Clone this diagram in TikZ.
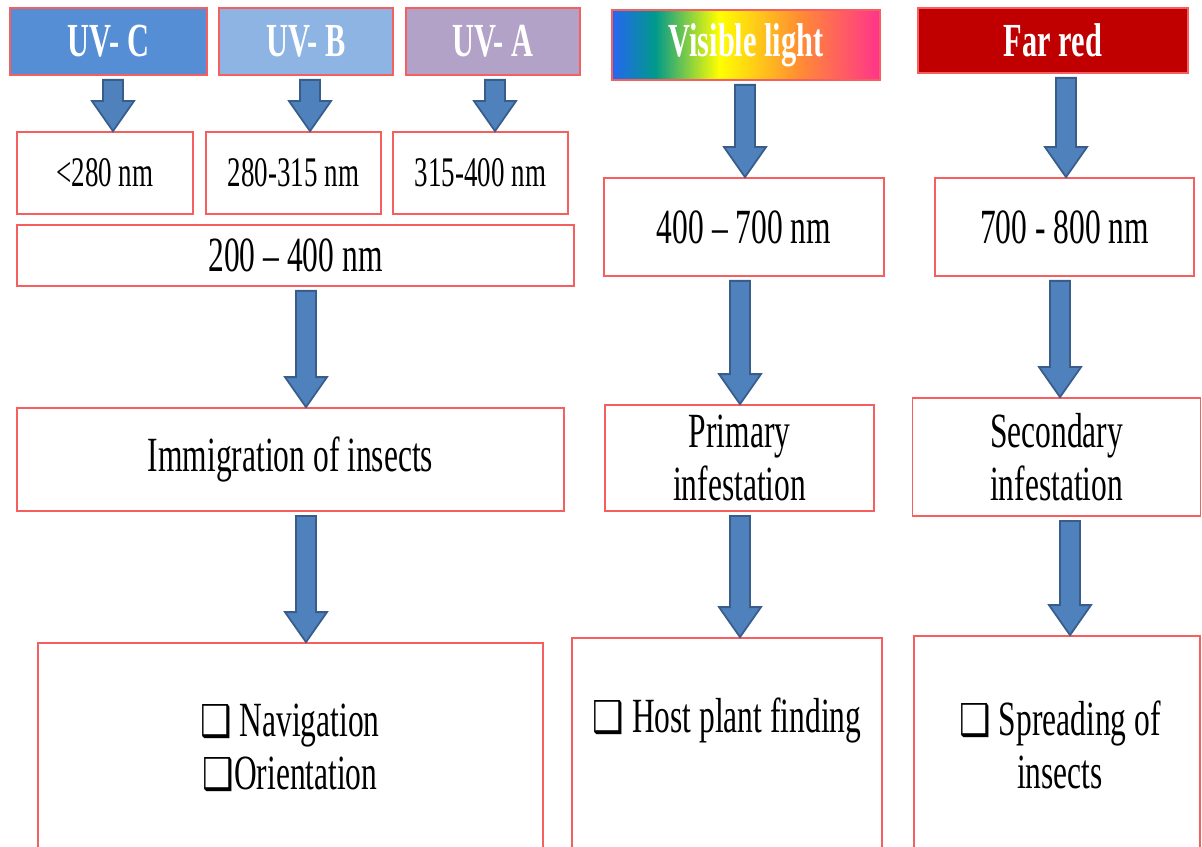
\documentclass[tikz,border=0pt]{standalone}
\usepackage{fontspec}
\setmainfont{Liberation Serif}[FakeStretch=0.64]
\newfontfamily\boxsym{DejaVu Sans}[FakeStretch=0.8]
\usepackage{tikz}
\usetikzlibrary{calc}

\definecolor{uvcblue}{RGB}{85,142,213}
\definecolor{uvbblue}{RGB}{142,180,227}
\definecolor{uvalila}{RGB}{179,162,199}
\definecolor{farred}{RGB}{192,0,0}
\definecolor{boxred}{RGB}{245,95,95}
\definecolor{arrowfill}{RGB}{79,129,189}
\definecolor{arrowline}{RGB}{56,93,138}

\pgfdeclarehorizontalshading{spectrum}{100bp}{rgb(0bp)=(0.15,0.4,0.95); rgb(25bp)=(0.15,0.4,0.95); rgb(33bp)=(0,0.6,0.55); rgb(45bp)=(1,1,0); rgb(60bp)=(1,0.55,0.2); rgb(75bp)=(1,0.2,0.55); rgb(100bp)=(1,0.2,0.55)}

\newcommand{\cbox}{{\boxsym\fontsize{25}{25}\selectfont ❑}}
\newcommand{\flow}[3]{%
	\coordinate (s) at (#2.south -| #1,0);
	\coordinate (t) at (#3.north -| #1,0);
	\draw[blockarrow] ([shift={(-10,4)}]s) -- ([shift={(-10,-30)}]t) -- ([shift={(-21,-30)}]t) -- (t)
		-- ([shift={(21,-30)}]t) -- ([shift={(10,-30)}]t) -- ([shift={(10,4)}]s) -- cycle;
}

\begin{document}
\begin{tikzpicture}[x=0.02cm, y=-0.02cm,
	box/.style={draw=boxred, line width=1pt, fill=white, inner sep=0, align=center, font=\fontsize{28}{30}\selectfont},
	small/.style={font=\fontsize{24}{26}\selectfont},
	hdr/.style={draw=boxred, line width=1pt, inner sep=0, text=white, font=\fontsize{27}{30}\selectfont\bfseries},
	dims/.style 2 args={minimum width=#1*0.02cm, minimum height=#2*0.02cm},
	txt/.style={align=center, font=\fontsize{28}{30}\selectfont},
	blockarrow/.style={fill=arrowfill, draw=arrowline, line width=1pt, line join=miter}]
		\useasboundingbox (0,0) rectangle (1202,847);
		\clip (0,0) rectangle (1202,847);

		% spectral bands
		\node[hdr, dims={197}{67}, fill=uvcblue] at (108.5,41.5) (uvc){UV- C};
		\node[hdr, dims={174}{67}, fill=uvbblue] at (306,41.5)   (uvb){UV- B};
		\node[hdr, dims={174}{67}, fill=uvalila] at (493,41.5)   (uva){UV- A};
		\node[hdr, dims={268}{70}, shade, shading=spectrum] at (746,45) (vis){Visible light};
		\node[hdr, dims={270}{65}, fill=farred]  at (1053,40.5)  (far){Far red};

		% wavelengths
		\node[box, small, dims={176}{82}] at (105,173)   (uvcnm){<280 nm};
		\node[box, small, dims={175}{82}] at (293.5,173) (uvbnm){280-315 nm};
		\node[box, small, dims={175}{82}] at (480.5,173) (uvanm){315-400 nm};
		\node[box, dims={557}{61}] at (295.5,255.5) (uvnm){200 – 400 nm};
		\node[box, dims={280}{98}] at (744,227)     (visnm){400 – 700 nm};
		\node[box, dims={259}{98}] at (1064.5,227)  (farnm){700 - 800 nm};

		% effects
		\node[box, dims={547}{103}] at (290.5,459.5) (immig){Immigration of insects};
		\node[box, dims={269}{106}] at (739.5,458)   (primary){Primary\\infestation};
		\node[box, dims={288}{118}] at (1056.5,457)  (secondary){Secondary\\infestation};

		% behaviour
		\node[box, dims={505}{257}] at (290.5,771.5) (navbox){};
		\node[box, dims={310}{262}] at (727,769)     (hostbox){};
		\node[box, dims={286}{264}] at (1057,768)    (spreadbox){};
		\node[txt] at (290,748)  (nav){\cbox\ Navigation\\\cbox Orientation};
		\node[txt] at (727,720)  (host){\cbox\ Host plant finding};
		\node[txt] at (1060,745) (spread){\cbox\ Spreading of\\insects};

		\flow{113}{uvc}{uvcnm}
		\flow{310}{uvb}{uvbnm}
		\flow{495}{uva}{uvanm}
		\flow{745}{vis}{visnm}
		\flow{1066}{far}{farnm}
		\flow{306}{uvnm}{immig}
		\flow{740}{visnm}{primary}
		\flow{1060}{farnm}{secondary}
		\flow{306}{immig}{navbox}
		\flow{740}{primary}{hostbox}
		\flow{1070}{secondary}{spreadbox}
	\end{tikzpicture}
\end{document}
